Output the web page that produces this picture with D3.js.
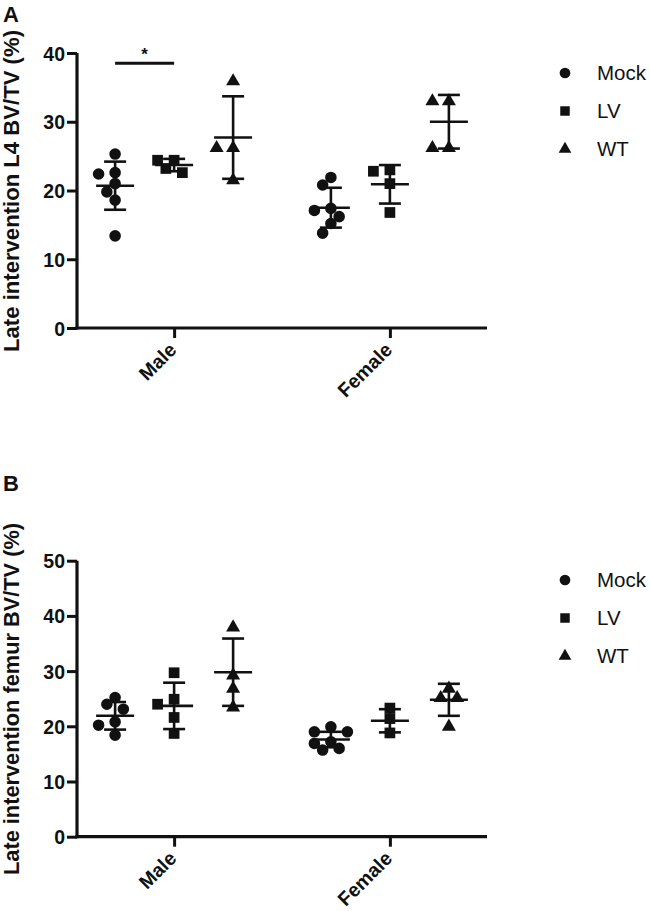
<!DOCTYPE html>
<html>
<head>
<meta charset="utf-8">
<script src="https://cdn.jsdelivr.net/npm/d3@7"></script>
<style>
  html, body { margin: 0; padding: 0; background: #fff; }
  svg { display: block; font-family: "Liberation Sans", Arial, sans-serif; }
</style>
</head>
<body>
<svg id="chart" width="650" height="911"></svg>
<script>
// ---------- data ----------
const sexes = ["Male", "Female"];
const groups = ["Mock", "LV", "WT"];

// Panel A: Late intervention L4 BV/TV (%)
const l4MaleMock   = [25.3, 22.4, 22.6, 21.0, 19.8, 18.6, 13.4];
const l4MaleLV     = [24.4, 24.4, 22.6, 23.2];
const l4MaleWT     = [36.1, 26.4, 26.4, 21.7];
const l4FemaleMock = [21.9, 20.8, 17.1, 17.4, 16.2, 15.2, 13.8];
const l4FemaleLV   = [22.8, 23.0, 21.0, 16.8];
const l4FemaleWT   = [33.2, 33.2, 26.4, 26.4];
const l4Mean = [[20.7, 23.7, 27.7], [17.5, 20.9, 30.0]];
const l4SD   = [[3.5, 0.9, 6.0], [2.9, 2.8, 3.9]];

// Panel B: Late intervention femur BV/TV (%)
const femMaleMock   = [25.2, 24.0, 23.1, 20.8, 20.2, 18.4];
const femMaleLV     = [29.7, 24.9, 24.0, 21.6, 18.7];
const femMaleWT     = [38.2, 29.5, 27.1, 23.7];
const femFemaleMock = [19.9, 19.0, 19.0, 17.2, 16.9, 16.0, 15.7];
const femFemaleLV   = [23.3, 21.4, 18.8];
const femFemaleWT   = [27.1, 25.4, 25.4, 20.2];
const femMean = [[21.9, 23.7, 29.8], [17.6, 21.0, 24.8]];
const femSD   = [[2.5, 4.2, 6.1], [1.4, 2.1, 2.9]];

const ticksA = [0, 10, 20, 30, 40];
const ticksB = [0, 10, 20, 30, 40, 50];
const titleA = "Late intervention L4 BV/TV (%)";
const titleB = "Late intervention femur BV/TV (%)";
const sigA = { from: "Mock", to: "LV", sex: "Male", y: 38.5, label: "*" };

// ---------- drawing ----------
const svg = d3.select("#chart");
const ink = "#111";

function symbolFor(g) {
  return g === "Mock" ? d3.symbolCircle : g === "LV" ? d3.symbolSquare : d3.symbolTriangle;
}
const symSize = { Mock: 105, LV: 115, WT: 85 };

function dodge(values, y, dia) {
  // GraphPad-like scatter: spread overlapping points horizontally
  const order = values.map((v, i) => i).sort((a, b) => values[b] - values[a]);
  const placed = [];
  const out = new Array(values.length);
  const cands = [0, -1, 1, -2, 2, -3, 3];
  order.forEach(i => {
    const py = y(values[i]);
    for (const c of cands) {
      const px = c * dia * 0.75;
      const ok = placed.every(p => Math.hypot(p.x - px, p.y - py) >= dia * 0.95);
      if (ok) { placed.push({ x: px, y: py }); out[i] = px; break; }
    }
    if (out[i] === undefined) { out[i] = 0; placed.push({ x: 0, y: py }); }
  });
  return out;
}

function panel(cfg) {
  const g = svg.append("g");
  const x = d3.scalePoint().domain(sexes).range([77, 487]).padding(0.45);
  const sub = d3.scalePoint().domain(groups).range([-59, 59]);
  const y = d3.scaleLinear().domain([0, cfg.ymax]).range([cfg.y0, cfg.ytop]);

  // y axis
  const ya = g.append("g").attr("transform", "translate(77,0)")
    .call(d3.axisLeft(y).tickValues(cfg.ticks).tickSize(10).tickPadding(2));
  ya.select(".domain").attr("stroke", ink).attr("stroke-width", 3.2)
    .attr("d", `M0,${y(0)+1.5}V${y(cfg.ymax)}`);
  ya.selectAll(".tick line").attr("stroke", ink).attr("stroke-width", 3);
  ya.selectAll(".tick text").attr("fill", ink).attr("font-size", 19.5).attr("font-weight", "bold")
    .attr("font-family", "Liberation Sans, Arial, sans-serif").attr("dy", "0.36em");

  // x axis
  const xa = g.append("g").attr("transform", `translate(0,${cfg.y0})`)
    .call(d3.axisBottom(x).tickSize(10).tickPadding(6));
  xa.select(".domain").attr("stroke", ink).attr("stroke-width", 3.2)
    .attr("d", "M75.5,0H487");
  xa.selectAll(".tick line").attr("stroke", ink).attr("stroke-width", 3);
  xa.selectAll(".tick text").attr("fill", ink).attr("font-size", 19.5).attr("font-weight", "bold")
    .attr("font-family", "Liberation Sans, Arial, sans-serif")
    .attr("text-anchor", "end").attr("dy", null).attr("y", 0)
    .attr("transform", "translate(3,23) rotate(-45)");

  // y title
  g.append("text")
    .attr("transform", `translate(19,${cfg.titleMid}) rotate(-90)`)
    .attr("text-anchor", "middle").attr("font-weight", "bold").attr("font-size", 21.5)
    .attr("fill", ink)
    .attr("textLength", cfg.titleLen).attr("lengthAdjust", "spacingAndGlyphs")
    .text(cfg.title);

  // panel letter
  g.append("text").attr("x", 3).attr("y", cfg.letterY).attr("font-weight", "bold")
    .attr("font-size", 22).attr("fill", ink).text(cfg.letter);

  // data
  sexes.forEach((s, si) => {
    groups.forEach((gr, gi) => {
      const cx = x(s) + sub(gr);
      const vals = cfg.data[si][gi];
      const offs = dodge(vals, y, 11);
      g.append("g").selectAll("path").data(vals).join("path")
        .attr("d", d3.symbol().type(symbolFor(gr)).size(symSize[gr]))
        .attr("transform", (d, i) => `translate(${cx + offs[i]},${y(d) + (gr === "WT" ? 1.5 : 0)})`)
        .attr("fill", ink);
      const m = cfg.mean[si][gi], sd = cfg.sd[si][gi];
      const eb = g.append("g").attr("stroke", ink).attr("stroke-width", 2.6);
      eb.append("line").attr("x1", cx).attr("x2", cx).attr("y1", y(m + sd)).attr("y2", y(m - sd));
      eb.append("line").attr("x1", cx - 19).attr("x2", cx + 19).attr("y1", y(m)).attr("y2", y(m));
      eb.append("line").attr("x1", cx - 11).attr("x2", cx + 11).attr("y1", y(m + sd)).attr("y2", y(m + sd));
      eb.append("line").attr("x1", cx - 11).attr("x2", cx + 11).attr("y1", y(m - sd)).attr("y2", y(m - sd));
    });
  });

  // significance
  if (cfg.sig) {
    const s = cfg.sig;
    const x1 = x(s.sex) + sub(s.from), x2 = x(s.sex) + sub(s.to);
    g.append("line").attr("x1", x1).attr("x2", x2).attr("y1", y(s.y)).attr("y2", y(s.y))
      .attr("stroke", ink).attr("stroke-width", 3);
    g.append("text").attr("x", (x1 + x2) / 2).attr("y", y(s.y) - 3).attr("text-anchor", "middle")
      .attr("font-size", 17).attr("font-weight", "bold").attr("fill", ink).text(s.label);
  }

  // legend
  const lg = g.append("g");
  groups.forEach((gr, i) => {
    const ly = cfg.legendY + i * 38;
    lg.append("path").attr("d", d3.symbol().type(symbolFor(gr)).size(gr === "WT" ? 70 : 90))
      .attr("transform", `translate(565,${ly})`).attr("fill", ink);
    lg.append("text").attr("x", 597).attr("y", ly + 7).attr("font-size", 20.5)
      .attr("fill", ink).text(gr);
  });
}

panel({
  letter: "A", letterY: 22, ymax: 40, y0: 328, ytop: 53, ticks: ticksA,
  title: titleA, titleMid: 191, titleLen: 322, legendY: 73,
  data: [[l4MaleMock, l4MaleLV, l4MaleWT], [l4FemaleMock, l4FemaleLV, l4FemaleWT]],
  mean: l4Mean, sd: l4SD, sig: sigA
});
panel({
  letter: "B", letterY: 491, ymax: 50, y0: 836.7, ytop: 560.7, ticks: ticksB,
  title: titleB, titleMid: 699, titleLen: 352, legendY: 580,
  data: [[femMaleMock, femMaleLV, femMaleWT], [femFemaleMock, femFemaleLV, femFemaleWT]],
  mean: femMean, sd: femSD, sig: null
});
</script>
</body>
</html>
